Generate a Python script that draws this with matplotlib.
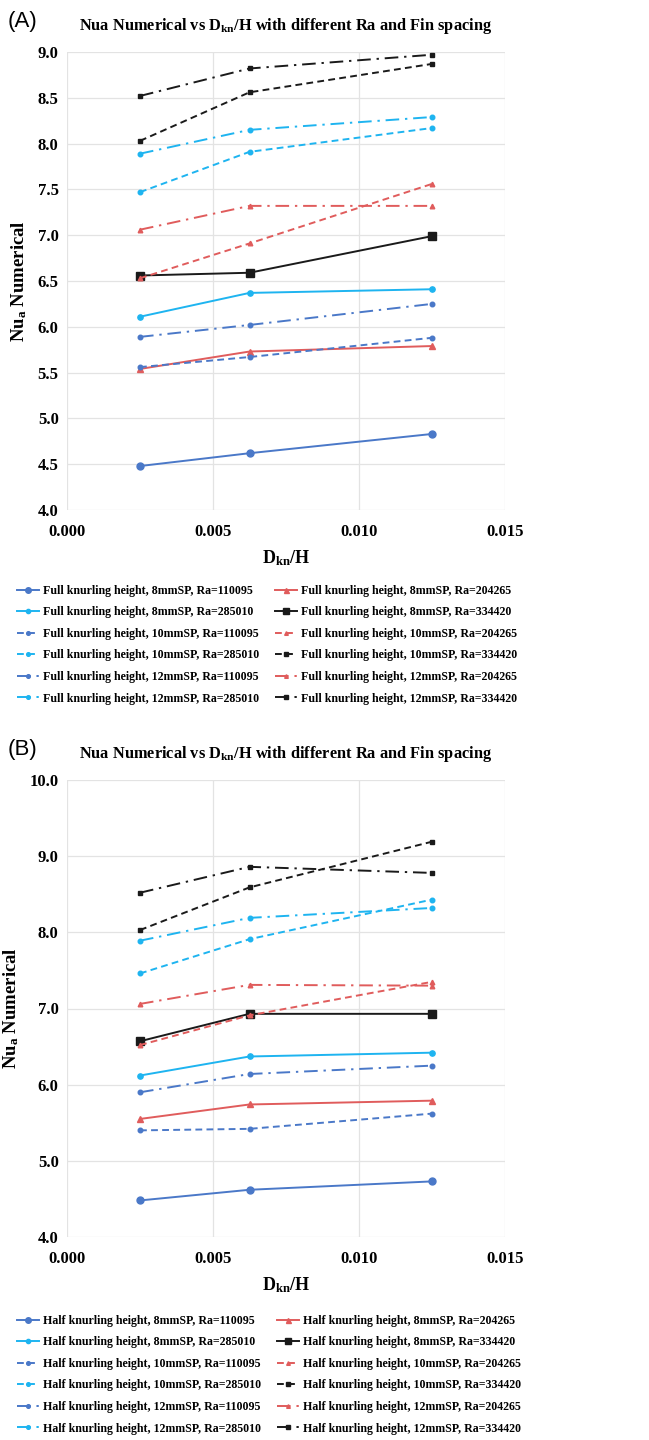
import numpy as np
import matplotlib
matplotlib.use("Agg")
import matplotlib.pyplot as plt

# ---Data---
x_vals = [0.0025, 0.00625, 0.0125]
ra_values = ["110095", "204265", "285010", "334420"]
spacings = ["8mmSP", "10mmSP", "12mmSP"]

# Full knurling height (A), rows = Ra, cols = x
full_8mm = [[4.48, 4.62, 4.83], [5.54, 5.73, 5.79], [6.11, 6.37, 6.41], [6.56, 6.59, 6.99]]
full_10mm = [[5.56, 5.67, 5.88], [6.53, 6.91, 7.56], [7.47, 7.91, 8.17], [8.03, 8.56, 8.87]]
full_12mm = [[5.89, 6.02, 6.25], [7.06, 7.32, 7.32], [7.89, 8.15, 8.29], [8.52, 8.82, 8.97]]

# Half knurling height (B)
half_8mm = [[4.48, 4.62, 4.73], [5.55, 5.74, 5.79], [6.12, 6.37, 6.42], [6.57, 6.93, 6.93]]
half_10mm = [[5.40, 5.42, 5.62], [6.52, 6.91, 7.35], [7.46, 7.91, 8.43], [8.03, 8.59, 9.19]]
half_12mm = [[5.90, 6.14, 6.25], [7.06, 7.31, 7.30], [7.89, 8.19, 8.32], [8.52, 8.86, 8.78]]

# ---Style---
colors = ["#4a78c8", "#e05c5c", "#1eb4f0", "#1a1a1a"]
markers = ["o", "^", "o", "s"]
solid_ms = [5, 4.5, 3.8, 5.5]
line_styles = {"8mmSP": "-", "10mmSP": (0, (3.5, 2.2)), "12mmSP": (0, (7, 3, 1.2, 3))}

plt.rcParams["font.family"] = ["Liberation Serif", "DejaVu Serif"]
plt.rcParams["font.weight"] = "bold"
plt.rcParams["mathtext.fontset"] = "custom"
plt.rcParams["mathtext.rm"] = "Liberation Serif:bold"
plt.rcParams["mathtext.bf"] = "Liberation Serif:bold"
plt.rcParams["mathtext.it"] = "Liberation Serif:bold:italic"


def draw_panel(fig, rect, data, prefix, ylim, ystep, letter, legend_top):
    ax = fig.add_axes(rect)
    handles = {}
    for s_idx, sp in enumerate(spacings):
        for r_idx, ra in enumerate(ra_values):
            solid = sp == "8mmSP"
            ms = solid_ms[r_idx] if solid else 3.3
            (h,) = ax.plot(x_vals, data[sp][r_idx], color=colors[r_idx],
                           linestyle=line_styles[sp], linewidth=1.4,
                           marker=markers[r_idx], markersize=ms,
                           label=f"{prefix} knurling height, {sp}, Ra={ra}")
            handles[(s_idx, r_idx)] = h
    ax.set_xlim(0, 0.015)
    ax.set_ylim(*ylim)
    ax.set_xticks([0.0, 0.005, 0.010, 0.015])
    ax.set_xticklabels(["0.000", "0.005", "0.010", "0.015"])
    yt = np.arange(ylim[0], ylim[1] + 1e-9, ystep)
    ax.set_yticks(yt)
    ax.set_yticklabels([f"{v:.1f}" for v in yt])
    ax.tick_params(length=0, labelsize=12, pad=6)
    ax.tick_params(axis="x", pad=10)
    ax.grid(True, color="#e3e3e3", linewidth=0.9)
    ax.set_axisbelow(True)
    for sp in ax.spines.values():
        sp.set_visible(False)
    ax.set_title(r"Nua Numerical vs D$_{\mathrm{kn}}$/H with different Ra and Fin spacing",
                 fontsize=11.8, fontweight="bold", pad=16)
    ax.set_xlabel(r"D$_{\mathrm{kn}}$/H", fontsize=13, fontweight="bold", labelpad=6)
    ax.set_ylabel(r"Nu$_{\mathrm{a}}$ Numerical", fontsize=13.5, fontweight="bold", labelpad=6)

    # legend in Excel row order: left column = even entries, right = odd
    order = []
    for s_idx in range(3):
        for r_idx in range(4):
            order.append(handles[(s_idx, r_idx)])
    left = order[0::2]
    right = order[1::2]
    hs = left + right
    fig.legend(handles=hs, labels=[h.get_label() for h in hs], loc="upper left",
               bbox_to_anchor=(0.01, legend_top), ncol=2, frameon=False,
               fontsize=8.6, handlelength=1.8, handletextpad=0.35,
               columnspacing=1.35, labelspacing=0.8, markerscale=0.8)
    fig.text(0.012, rect[1] + rect[3] + 0.021, letter, fontsize=16,
             family="Liberation Sans", fontweight="normal", va="center")
    return ax


fig = plt.figure(figsize=(6.49, 14.4), dpi=100)
full_data = {"8mmSP": full_8mm, "10mmSP": full_10mm, "12mmSP": full_12mm}
half_data = {"8mmSP": half_8mm, "10mmSP": half_10mm, "12mmSP": half_12mm}

draw_panel(fig, [67 / 649, 1 - 510 / 1440, 438 / 649, 458 / 1440], full_data,
           "Full", (4.0, 9.0), 0.5, "(A)", 1 - 574 / 1440)
draw_panel(fig, [67 / 649, 1 - 1237 / 1440, 438 / 649, 457 / 1440], half_data,
           "Half", (4.0, 10.0), 1.0, "(B)", 1 - 1304 / 1440)

fig.savefig("out.png", dpi=100, facecolor="white")
